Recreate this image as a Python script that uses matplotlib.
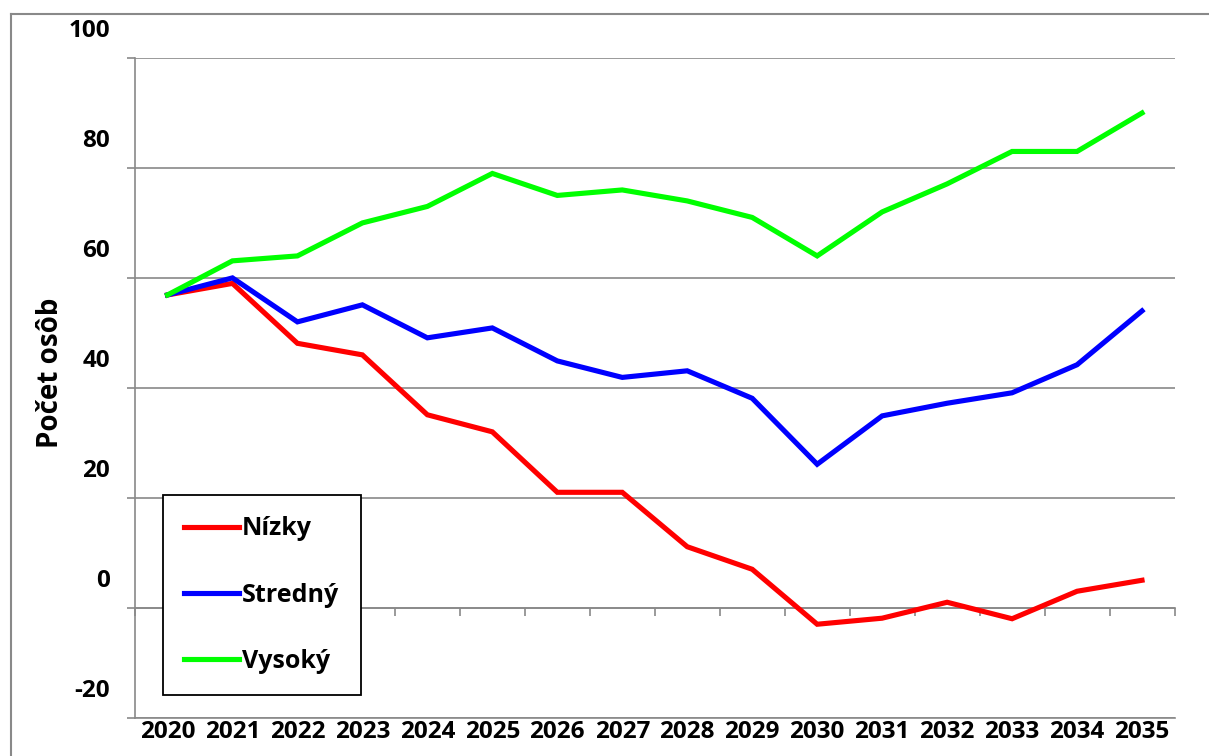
import matplotlib
matplotlib.use("Agg")
import matplotlib.pyplot as plt
from matplotlib.transforms import ScaledTranslation
from matplotlib.lines import Line2D

plt.rcParams['font.family'] = ['Open Sans', 'DejaVu Sans']
plt.rcParams['font.weight'] = 'bold'

years = list(range(2020, 2036))
nizky = [56.9, 59.0, 48.1, 46.0, 35.1, 32.0, 21.0, 21.0, 11.1, 7.0, -3.0, -1.9, 1.0, -2.0, 3.0, 5.0]
stredny = [56.9, 60.0, 52.0, 55.1, 49.1, 50.9, 44.9, 41.9, 43.1, 38.1, 26.1, 34.9, 37.2, 39.1, 44.2, 54.0]
vysoky = [56.9, 63.1, 64.0, 70.0, 73.0, 79.0, 75.0, 76.0, 74.0, 71.0, 64.0, 72.0, 77.1, 83.0, 83.0, 90.0]
series_names = ['Nízky', 'Stredný', 'Vysoký']
series_colors = ['#FF0000', '#0000FF', '#00FF00']
yticks = [-20, 0, 20, 40, 60, 80, 100]
ylabel = 'Počet osôb'

W, H = 1209, 756
dpi = 100
fig = plt.figure(figsize=(W / dpi, H / dpi), dpi=dpi)
ax = fig.add_axes([135 / W, 1 - 717.7 / H, (1174.5 - 135) / W, (717.7 - 58) / H])

gray = '#898989'
for vals, name, col in zip([nizky, stredny, vysoky], series_names, series_colors):
    ax.plot(years, vals, color=col, lw=3.7, label=name, solid_joinstyle='miter', zorder=3)

ax.set_xlim(2019.5, 2035.5)
ax.set_ylim(-20, 100)
ax.set_yticks(yticks)
ax.set_yticklabels([str(v) for v in yticks])
ax.set_xticks(years)
ax.set_xticklabels([str(y) for y in years])
ax.grid(axis='y', color=gray, lw=1.2, zorder=1)
ax.set_axisbelow(True)

for s in ['top', 'right']:
    ax.spines[s].set_visible(False)
ax.spines['left'].set_color(gray)
ax.spines['left'].set_linewidth(1.2)
ax.spines['bottom'].set_color(gray)
ax.spines['bottom'].set_linewidth(1.2)

ax.tick_params(axis='y', direction='out', length=6, width=1.2, color=gray, pad=12,
               labelsize=17.5, labelcolor='black')
ax.tick_params(axis='x', length=0, pad=2, labelsize=17.5, labelcolor='black')
for lab in ax.get_yticklabels():
    lab.set_fontweight('bold')
    lab.set_transform(lab.get_transform() + ScaledTranslation(0, 0.30, fig.dpi_scale_trans))
for lab in ax.get_xticklabels():
    lab.set_fontweight('bold')

# zero line with category-boundary ticks
zero_pos = (0 - (-20)) / 120
sec = ax.secondary_xaxis(zero_pos)
sec.set_xticks([y - 0.5 for y in years] + [years[-1] + 0.5])
sec.set_xticklabels([])
sec.tick_params(axis='x', direction='out', length=6, width=1.2, color=gray)
sec.spines['bottom'].set_color(gray)
sec.spines['bottom'].set_linewidth(1.2)

fig.text(51 / W, 1 - 373 / H, ylabel, rotation=90, ha='center', va='center',
         fontsize=20, fontweight='bold')

handles = [Line2D([], [], color=c, lw=3.7) for c in series_colors]
leg = ax.legend(handles, series_names, loc='upper left',
                bbox_to_anchor=(163 / W, 1 - 495 / H), bbox_transform=fig.transFigure,
                fancybox=False, frameon=True, edgecolor='black', framealpha=1,
                fontsize=18, handlelength=2.2, handletextpad=0.12, labelspacing=1.65,
                borderpad=0.85, borderaxespad=0)
leg.get_frame().set_linewidth(1.3)
for t in leg.get_texts():
    t.set_fontweight('bold')

# outer chart border
fig.add_artist(Line2D([11 / W, 1], [1 - 14 / H, 1 - 14 / H], transform=fig.transFigure,
                      color=gray, lw=1.5))
fig.add_artist(Line2D([11 / W, 11 / W], [0, 1 - 14 / H], transform=fig.transFigure,
                      color=gray, lw=1.5))

fig.savefig('out.png', dpi=dpi)
